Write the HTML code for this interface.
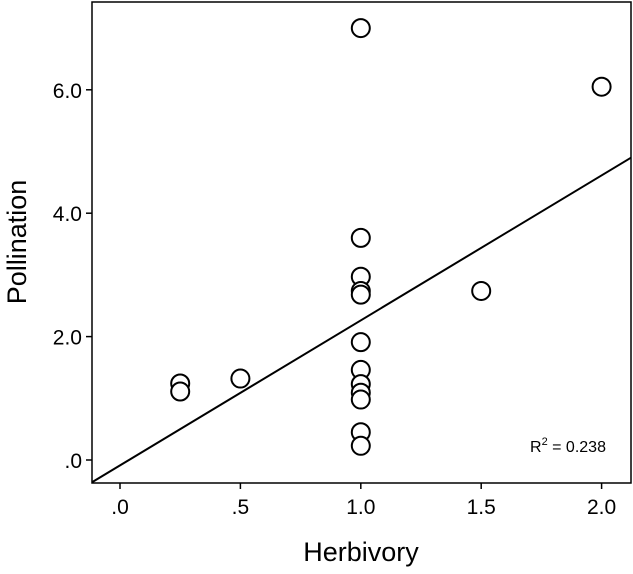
<!DOCTYPE html>
<html><head><meta charset="utf-8"><style>
body{margin:0;background:#fff;}
svg{display:block;font-family:"Liberation Sans",Arial,sans-serif;}
</style></head><body>
<svg id="chart" width="633" height="574" viewBox="0 0 633 574"></svg>
<script>
const xVals=[1.0,2.0,1.0,1.0,1.0,1.0,1.5,1.0,1.0,1.0,1.0,1.0,1.0,1.0,0.5,0.25,0.25];
const yVals=[7.0,6.05,3.6,2.97,2.74,2.68,2.74,1.91,1.46,1.23,1.09,0.98,0.45,0.23,1.32,1.24,1.11];
const xTicks=[0,0.5,1.0,1.5,2.0];
const xTickLabels=[".0",".5","1.0","1.5","2.0"];
const yTicks=[0,2,4,6];
const yTickLabels=[".0","2.0","4.0","6.0"];
const fitSlope=2.35, fitIntercept=-0.087;
const r2Label="0.238";

const L=92,R=631,T=2,B=483;
const xs=v=>120+v*240.8;
const ys=v=>460-v*61.7;
const xMin=(L-120)/240.8, xMax=(R-120)/240.8;
const svg=document.getElementById('chart');
const NS='http://www.w3.org/2000/svg';
function mk(tag,attrs,parent){const e=document.createElementNS(NS,tag);for(const k in attrs)e.setAttribute(k,attrs[k]);(parent||svg).appendChild(e);return e;}

const frame=mk('rect',{x:L,y:T,width:R-L,height:B-T,fill:'none',stroke:'#000','stroke-width':1.5});



xTicks.forEach((t,i)=>{
  const tk=mk('line',{x1:xs(t),x2:xs(t),y1:B,y2:B+6,stroke:'#000','stroke-width':1.5});
  
  
  const lb=mk('text',{x:xs(t),y:B+31,'text-anchor':'middle','font-size':21,fill:'#000'});
  lb.textContent=xTickLabels[i];
  
  
});
yTicks.forEach((t,i)=>{
  const tk=mk('line',{x1:L-6,x2:L,y1:ys(t),y2:ys(t),stroke:'#000','stroke-width':1.5});
  
  
  const lb=mk('text',{x:L-10,y:ys(t)+8,'text-anchor':'end','font-size':21,fill:'#000'});
  lb.textContent=yTickLabels[i];
  
  
});

const fit=mk('line',{x1:xs(xMin),y1:ys(fitIntercept+fitSlope*xMin),x2:xs(xMax),y2:ys(fitIntercept+fitSlope*xMax),stroke:'#000','stroke-width':2});



xVals.forEach((x,i)=>{
  const c=mk('circle',{cx:xs(x),cy:ys(yVals[i]),r:9,fill:'#fff',stroke:'#000','stroke-width':2});
  
  
});

const r2=mk('text',{x:530,y:452,'font-size':16,fill:'#000'});
r2.innerHTML='R<tspan dy="-7" font-size="11">2</tspan><tspan dy="7"> = '+r2Label+'</tspan>';



const xt=mk('text',{x:361,y:561,'text-anchor':'middle','font-size':27,fill:'#000'});
xt.textContent='Herbivory';


const yt=mk('text',{x:0,y:0,'text-anchor':'middle','font-size':27,fill:'#000',transform:'translate(26,242) rotate(-90)'});
yt.textContent='Pollination';


</script>
</body></html>
